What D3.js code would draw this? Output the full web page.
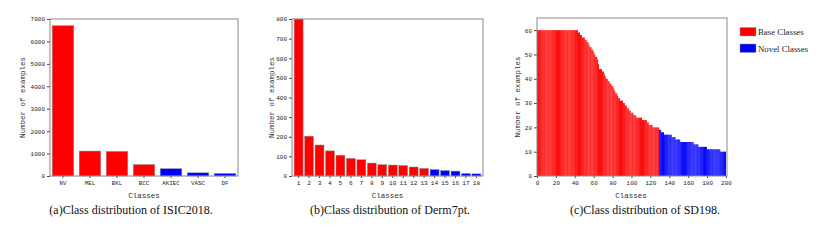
<!DOCTYPE html>
<html><head><meta charset="utf-8">
<script src="https://cdn.jsdelivr.net/npm/d3@7"></script>
<style>body{margin:0;background:#fff}svg{display:block}</style>
</head><body>
<svg id="c" width="823" height="240"></svg>
<script>
// ---- Data ----
const isicClasses = ["NV","MEL","BKL","BCC","AKIEC","VASC","DF"];
const isicValues = [6705,1113,1099,514,327,142,115];
const isicNovel = ["AKIEC","VASC","DF"];
const isicYTicks = [0,1000,2000,3000,4000,5000,6000,7000];

const dermClasses = ["1","2","3","4","5","6","7","8","9","10","11","12","13","14","15","16","17","18"];
const dermValues = [800,203,158,128,106,90,83,66,58,56,54,46,39,33,28,25,13,11];
const dermNovelStart = 13; // index of first novel class
const dermYTicks = [0,100,200,300,400,500,600,700,800];

const sdBaseValues = [
 60,60,60,60,60,60,60,60,60,60, 60,60,60,60,60,60,60,60,60,60,
 60,60,60,60,60,60,60,60,60,60, 60,60,60,60,60,60,60,60,60,60,
 60,60,60,59,59,58,58,57,57,57, 56,56,55,55,54,53,53,52,52,51,
 50,49,49,48,46,44,44,44,43,43, 42,41,40,40,39,39,38,38,37,37,
 36,35,34,34,33,32,32,31,31,31, 30,30,29,29,28,28,27,27,26,26,
 26,25,25,25,24,24,24,24,24,24, 23,23,23,23,23,22,22,21,21,21,
 21,20,20,20,20,20,20,20];
const sdNovelValues = [
 19,19,18,18,18,17,17,17,17,17, 17,17,17,16,16,16,16,15,15,15,
 15,15,14,14,14,14,14,14,14,14, 14,14,14,14,14,14,13,13,13,13,
 13,12,12,12,12,12,12,12,12,12, 11,11,11,11,11,11,11,11,11,11,
 11,11,11,11,10,10,10,10,10,10];
const sdXTicks = [0,20,40,60,80,100,120,140,160,180,200];
const sdYTicks = [0,10,20,30,40,50,60];

const legendLabels = ["Base Classes","Novel Classes"];
const captions = ["(a)Class distribution of ISIC2018.","(b)Class distribution of Derm7pt.","(c)Class distribution of SD198."];

const RED = "#ff0000", BLUE = "#0000ff";
const svg = d3.select("#c");
const monoFont = "'Liberation Mono', 'DejaVu Sans Mono', monospace";
const serifFont = "'Liberation Serif', 'Times New Roman', serif";

function frame(g, x0, x1, y0, y1, yScale, yTicks, ylabelX) {
  const ax = g.append("g").attr("transform", `translate(${x0},0)`)
    .call(d3.axisLeft(yScale).tickValues(yTicks).tickFormat(d3.format("d")).tickSize(3).tickPadding(2));
  ax.select(".domain").remove();
  ax.selectAll("line").attr("stroke", "#444");
  ax.selectAll("text").attr("font-family", monoFont).attr("font-size", 6).attr("fill", "#222");
  g.append("text").attr("transform", `translate(${ylabelX},${(y0+y1)/2}) rotate(-90)`)
    .attr("text-anchor", "middle").attr("font-family", monoFont).attr("font-size", 7.5)
    .attr("fill", "#333").text("Number of examples");
}

function box(g, x0, x1, y0, y1) {
  g.append("rect").attr("x", x0).attr("y", y0).attr("width", x1 - x0).attr("height", y1 - y0)
    .attr("fill", "none").attr("stroke", "#888").attr("stroke-width", 1);
}

function xlabel(g, cx, y) {
  g.append("text").attr("x", cx).attr("y", y).attr("text-anchor", "middle")
    .attr("font-family", monoFont).attr("font-size", 7.5).attr("fill", "#333").text("Classes");
}

function caption(g, cx, text) {
  g.append("text").attr("x", cx).attr("y", 214).attr("text-anchor", "middle")
    .attr("font-family", serifFont).attr("font-size", 12).attr("fill", "#111").text(text);
}

// ---- Panel (a) ----
{
  const x0 = 50, x1 = 238, y0 = 19, y1 = 176;
  const g = svg.append("g");
  const x = d3.scaleBand().domain(isicClasses).range([x0, x1]).paddingInner(0.2).paddingOuter(0.08);
  const y = d3.scaleLinear().domain([0, 7000]).range([y1, y0]);
  g.selectAll("rect.bar").data(isicClasses).join("rect").attr("class", "bar")
    .attr("x", d => x(d)).attr("width", x.bandwidth())
    .attr("y", (d, i) => y(isicValues[i])).attr("height", (d, i) => y1 - y(isicValues[i]))
    .attr("fill", d => isicNovel.includes(d) ? BLUE : RED)
    .attr("stroke", "#999").attr("stroke-width", 0.5);
  const bx = g.append("g").attr("transform", `translate(0,${y1})`)
    .call(d3.axisBottom(x).tickSize(2).tickPadding(3));
  bx.select(".domain").remove();
  bx.selectAll("line").attr("stroke", "#444");
  bx.selectAll("text").attr("font-family", monoFont).attr("font-size", 5.8).attr("fill", "#222");
  frame(g, x0, x1, y0, y1, y, isicYTicks, 25);
  box(g, x0, x1, y0, y1);
  xlabel(g, (x0 + x1) / 2, 198);
  caption(g, 131, captions[0]);
}

// ---- Panel (b) ----
{
  const x0 = 292, x1 = 483, y0 = 19, y1 = 176;
  const g = svg.append("g");
  const x = d3.scaleBand().domain(dermClasses).range([x0, x1]).paddingInner(0.14).paddingOuter(0.2);
  const y = d3.scaleLinear().domain([0, 800]).range([y1, y0]);
  g.selectAll("rect.bar").data(dermClasses).join("rect").attr("class", "bar")
    .attr("x", d => x(d)).attr("width", x.bandwidth())
    .attr("y", (d, i) => y(dermValues[i])).attr("height", (d, i) => y1 - y(dermValues[i]))
    .attr("fill", (d, i) => i >= dermNovelStart ? BLUE : RED)
    .attr("stroke", "#999").attr("stroke-width", 0.5);
  const bx = g.append("g").attr("transform", `translate(0,${y1})`)
    .call(d3.axisBottom(x).tickSize(2).tickPadding(3));
  bx.select(".domain").remove();
  bx.selectAll("line").attr("stroke", "#444");
  bx.selectAll("text").attr("font-family", monoFont).attr("font-size", 6.2).attr("fill", "#222");
  frame(g, x0, x1, y0, y1, y, dermYTicks, 274);
  box(g, x0, x1, y0, y1);
  xlabel(g, (x0 + x1) / 2, 198);
  caption(g, 390, captions[1]);
}

// ---- Panel (c) ----
{
  const x0 = 537, x1 = 727, y0 = 18, y1 = 176;
  const g = svg.append("g");
  const xl = d3.scaleLinear().domain([0, 200]).range([x0, 726]);
  const sdValues = sdBaseValues.concat(sdNovelValues);
  const idx = d3.range(sdValues.length);
  const xb = d3.scaleBand().domain(idx).range([xl(0), xl(200)]).padding(0);
  const y = d3.scaleLinear().domain([0, 65]).range([y1, y0]);
  g.selectAll("rect.bar").data(idx).join("rect").attr("class", "bar")
    .attr("x", d => xb(d)).attr("width", xb.bandwidth())
    .attr("y", d => y(sdValues[d])).attr("height", d => y1 - y(sdValues[d]))
    .attr("fill", d => d >= sdBaseValues.length ? BLUE : RED);
  // faint separators between some bars, as in the reference
  g.selectAll("line.sep").data(idx.filter(d => d % 4 === 0 && d > 0)).join("line").attr("class", "sep")
    .attr("x1", d => xb(d)).attr("x2", d => xb(d))
    .attr("y1", d => y(sdValues[d])).attr("y2", y1)
    .attr("stroke", d => d >= sdBaseValues.length ? "#0000b0" : "#c00000")
    .attr("stroke-width", 0.35).attr("stroke-opacity", 0.6);
  const bx = g.append("g").attr("transform", `translate(0,${y1})`)
    .call(d3.axisBottom(xl).tickValues(sdXTicks).tickSize(2).tickPadding(3));
  bx.select(".domain").remove();
  bx.selectAll("line").attr("stroke", "#444");
  bx.selectAll("text").attr("font-family", monoFont).attr("font-size", 6).attr("fill", "#222");
  frame(g, x0, x1, y0, y1, y, sdYTicks, 520);
  box(g, x0, x1, y0, y1);
  xlabel(g, 631, 198);
  caption(g, 645, captions[2]);

  const lg = g.append("g");
  const colors = [RED, BLUE];
  legendLabels.forEach((t, i) => {
    lg.append("rect").attr("x", 740).attr("y", 27.5 + i * 16.5).attr("width", 16).attr("height", 8.5)
      .attr("fill", colors[i]).attr("stroke", "#999").attr("stroke-width", 0.5);
    lg.append("text").attr("x", 758).attr("y", 35 + i * 16.5)
      .attr("font-family", serifFont).attr("font-size", 8.8).attr("fill", "#222").text(t);
  });
}
</script>
</body></html>
